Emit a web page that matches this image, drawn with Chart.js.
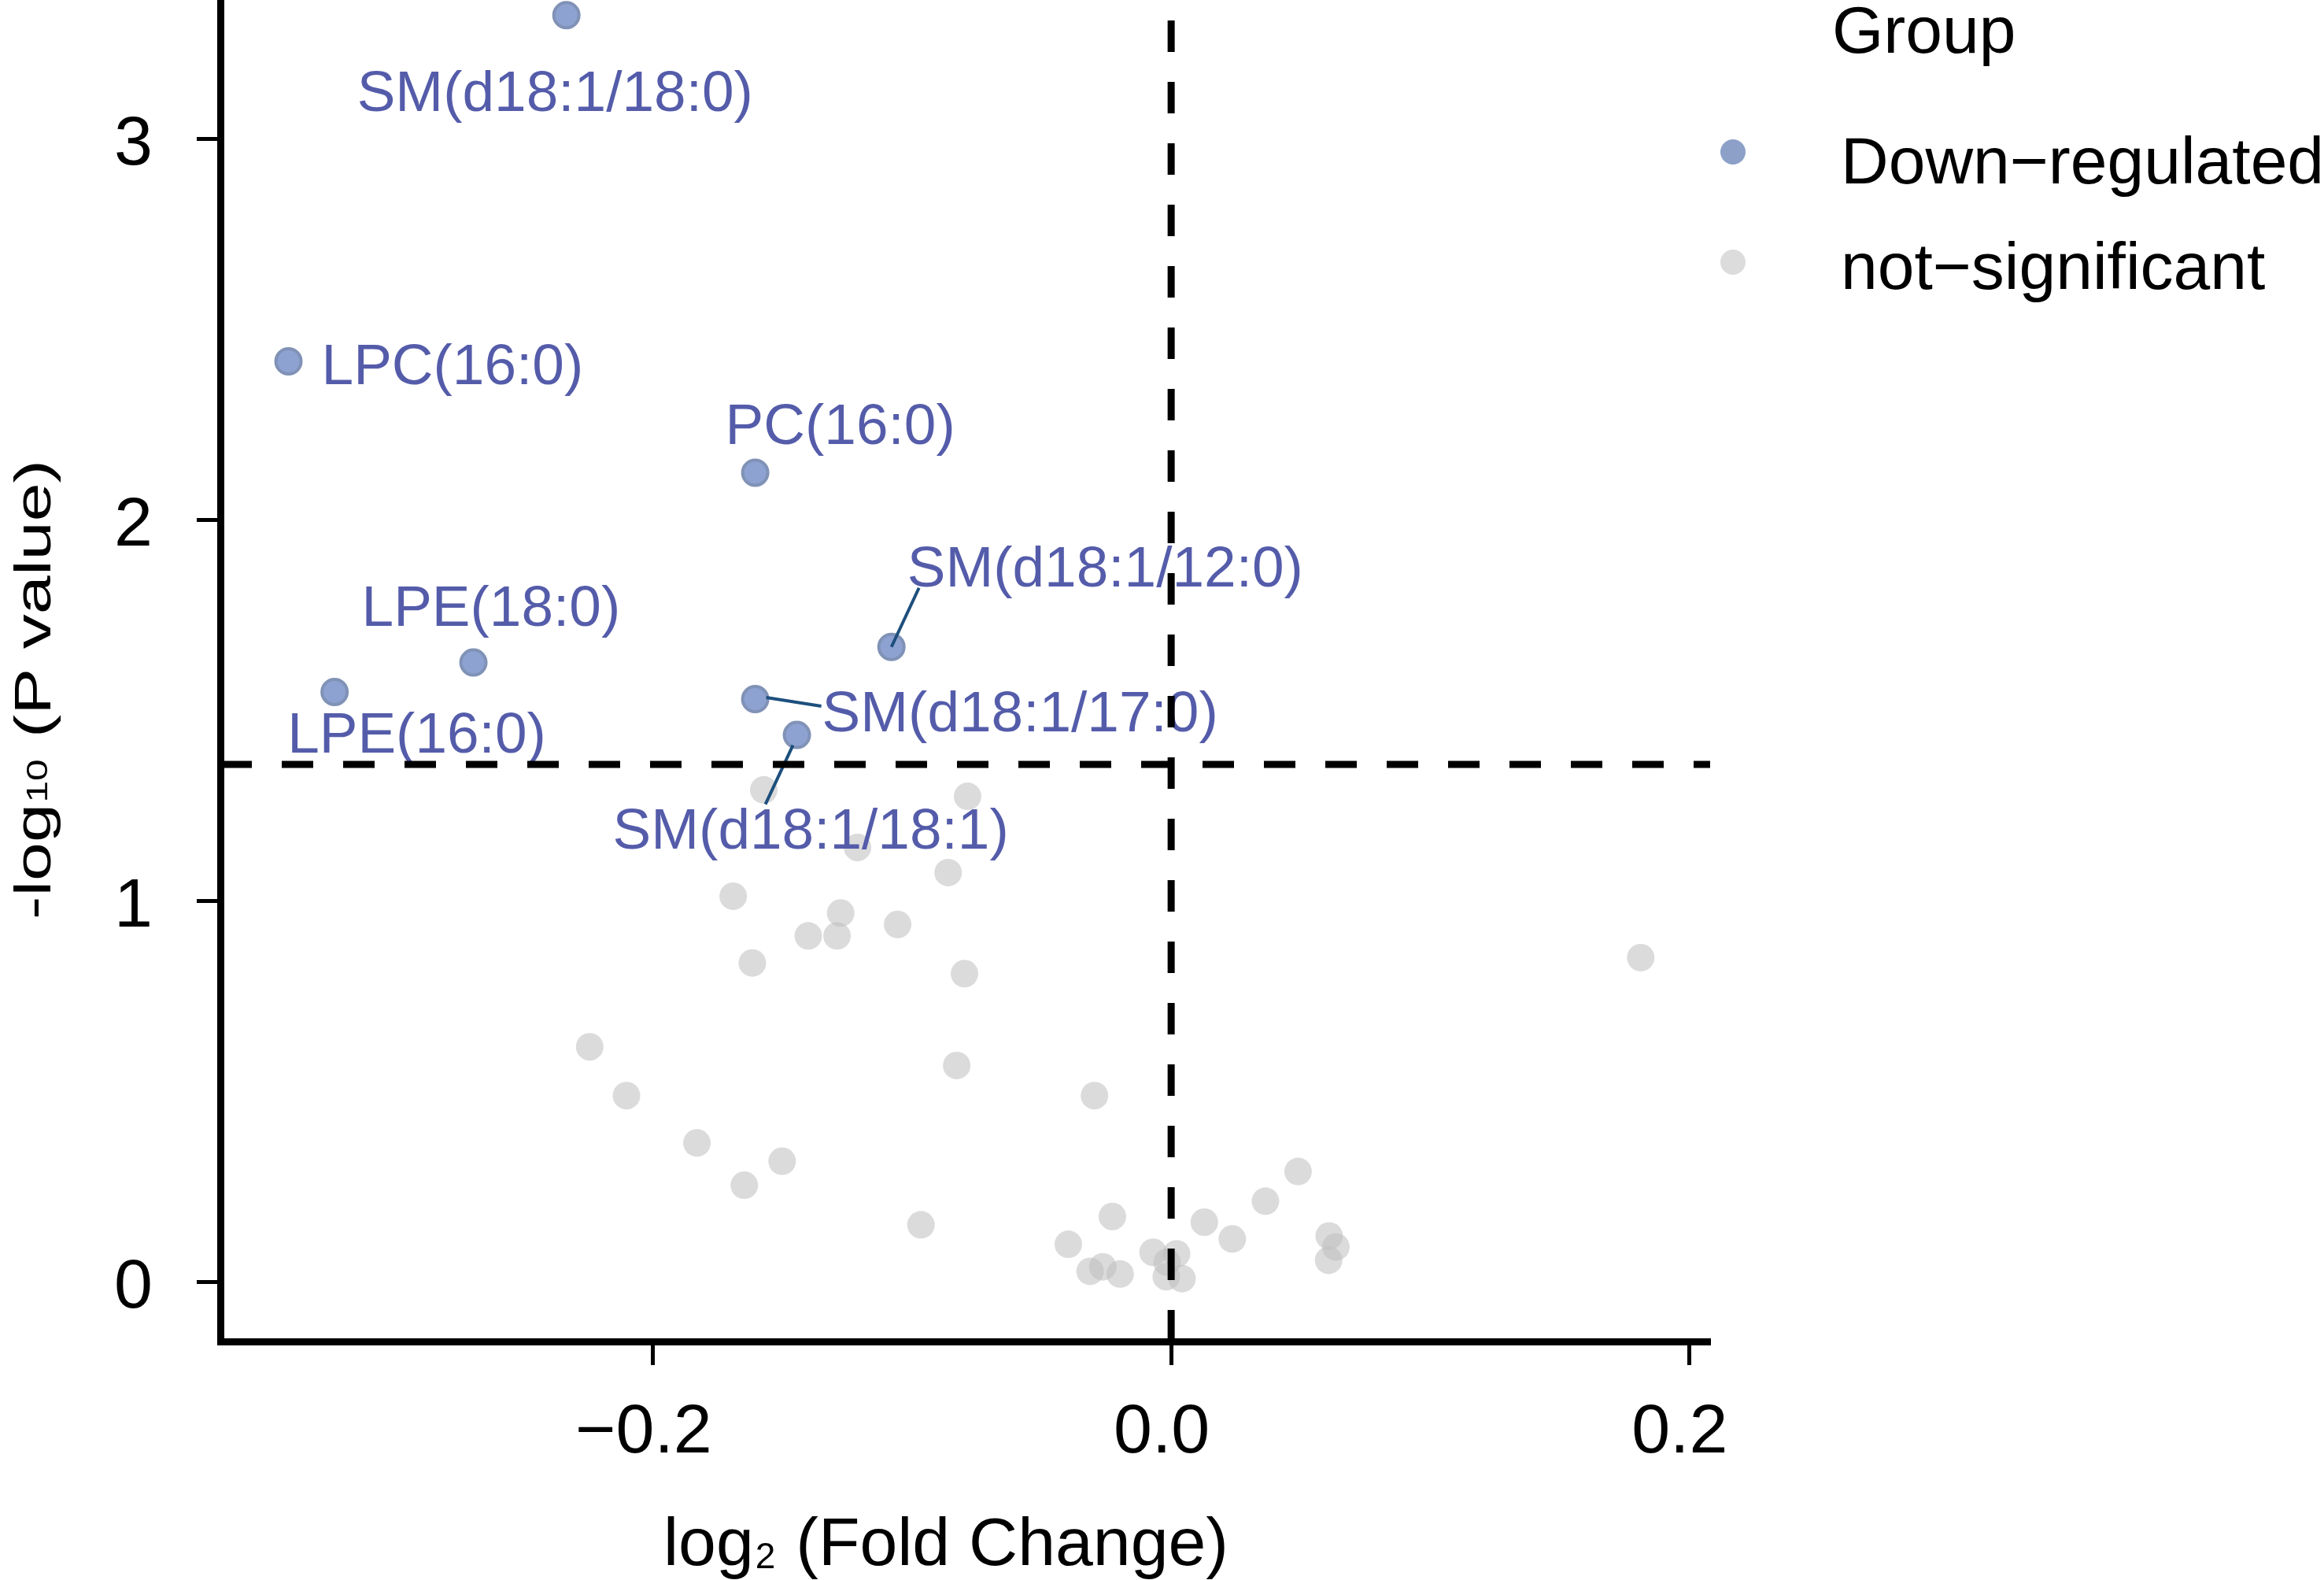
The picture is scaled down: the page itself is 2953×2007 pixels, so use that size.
<!DOCTYPE html>
<html>
<head>
<meta charset="utf-8">
<script src="https://cdn.jsdelivr.net/npm/chart.js@4/dist/chart.umd.min.js"></script>
<style>
  html, body { margin: 0; padding: 0; background: #fff; }
  canvas { display: block; }
</style>
</head>
<body>
<canvas id="volcano" width="2953" height="2007"></canvas>
<script>
// significant (down-regulated) lipids
const downNames = ['SM(d18:1/18:0)', 'LPC(16:0)', 'PC(16:0)', 'SM(d18:1/12:0)',
                   'LPE(18:0)', 'LPE(16:0)', 'SM(d18:1/17:0)', 'SM(d18:1/18:1)'];
const downFC = [-0.2335, -0.3408, -0.1606, -0.1080, -0.2694, -0.3230, -0.1606, -0.1445];
const downP  = [3.324, 2.416, 2.124, 1.667, 1.626, 1.549, 1.530, 1.436];

// not significant
const nsFC = [-0.1573, -0.0786, -0.1211, -0.0861, -0.1691, -0.1276, -0.1401, -0.1290, -0.1056,
              -0.1617, -0.0798, 0.1813, -0.2245, -0.2103, -0.1831, -0.1502, -0.1648, -0.0828,
              -0.0296, -0.0966, -0.0397, -0.0227, -0.0313, -0.0264, -0.0197, -0.0070, 0.0021,
              -0.0016, -0.0019, 0.0042, 0.0128, 0.0236, 0.0364, 0.0490, 0.0610, 0.0636, 0.0608];
const nsP  = [1.292, 1.275, 1.141, 1.075, 1.013, 0.969, 0.909, 0.909, 0.939,
              0.838, 0.810, 0.852, 0.618, 0.490, 0.366, 0.318, 0.255, 0.569,
              0.490, 0.151, 0.100, 0.173, 0.029, 0.041, 0.022, 0.079, 0.075,
              0.053, 0.015, 0.010, 0.158, 0.114, 0.213, 0.291, 0.122, 0.093, 0.058];

const xTicks = [-0.2, 0, 0.2];
const yTicks = [0, 1, 2, 3];
const fcCut = 0;
const pCut = 1.359;
const groupNames = ['Down\u2212regulated', 'not\u2212significant'];

// label placement (pixels from the point) and repel segments
const labelOffsets = [[-266, 122], [42, 29], [-38, -36], [20, -77],
                      [-142, -47], [-60, 77], [85, 41], [-234, 144]];
const segOffsets = [null, null, null, [0, 0, 35, -75],
                    null, null, [14, -2, 84, 9], [-5, 13, -40, 88]];

const FONT = '"Liberation Sans", Arial, sans-serif';
const blueFill = 'rgb(142,162,210)';
const blueEdge = 'rgb(128,146,182)';
const greyFill = 'rgba(190,190,190,0.55)';
const labelColor = '#545caa';

const decor = {
  id: 'decor',
  afterDatasetsDraw(chart) {
    const { ctx, chartArea: a, scales: { x, y } } = chart;
    ctx.save();

    // labels + segments
    ctx.font = '73px ' + FONT;
    ctx.fillStyle = labelColor;
    ctx.textAlign = 'left';
    ctx.textBaseline = 'alphabetic';
    downNames.forEach((name, i) => {
      const px = x.getPixelForValue(downFC[i]);
      const py = y.getPixelForValue(downP[i]);
      const s = segOffsets[i];
      if (s) {
        ctx.strokeStyle = '#1d4f7d';
        ctx.lineWidth = 4;
        ctx.beginPath();
        ctx.moveTo(px + s[0], py + s[1]);
        ctx.lineTo(px + s[2], py + s[3]);
        ctx.stroke();
      }
      ctx.fillText(name, px + labelOffsets[i][0], py + labelOffsets[i][1]);
    });

    // threshold lines
    ctx.strokeStyle = '#000';
    ctx.lineWidth = 9;
    ctx.setLineDash([40, 38]);
    const hy = y.getPixelForValue(pCut);
    ctx.beginPath();
    ctx.moveTo(a.left, hy);
    ctx.lineTo(a.right, hy);
    ctx.stroke();
    const vx = x.getPixelForValue(fcCut);
    ctx.beginPath();
    ctx.moveTo(vx, a.bottom);
    ctx.lineTo(vx, a.top);
    ctx.stroke();
    ctx.setLineDash([]);
    ctx.restore();
  },
  afterDraw(chart) {
    const { ctx } = chart;
    ctx.save();
    ctx.fillStyle = '#000';
    ctx.textBaseline = 'alphabetic';
    ctx.textAlign = 'left';

    // x title: log2 (Fold Change)
    let cx = 843;
    ctx.font = '86px ' + FONT;
    ctx.fillText('log', cx, 1988);
    cx += ctx.measureText('log').width;
    ctx.font = '46px ' + FONT;
    ctx.fillText('2', cx + 2, 1992);
    cx += ctx.measureText('2').width + 4;
    ctx.font = '86px ' + FONT;
    ctx.fillText(' (Fold Change)', cx, 1988);

    // y title: -log10 (P value), narrow glyphs as in the original
    ctx.font = '64px ' + FONT;
    const w1 = ctx.measureText('-log').width;
    const w3 = ctx.measureText(' (P value)').width;
    ctx.font = '36px ' + FONT;
    const w2 = ctx.measureText('10').width + 3;
    const stretch = 584 / (w1 + w2 + w3);
    ctx.translate(64, 1168);
    ctx.rotate(-Math.PI / 2);
    ctx.scale(stretch, 1);
    ctx.font = '64px ' + FONT;
    ctx.fillText('-log', 0, 0);
    ctx.font = '36px ' + FONT;
    ctx.fillText('10', w1 + 1, -4);
    ctx.font = '64px ' + FONT;
    ctx.fillText(' (P value)', w1 + w2, 0);
    ctx.setTransform(1, 0, 0, 1, 0, 0);

    // legend
    ctx.font = '84px ' + FONT;
    ctx.fillText('Group', 2328, 67);
    const dots = [[193, 'rgb(140,160,200)'], [333, 'rgb(220,220,220)']];
    const base = [233, 367];
    groupNames.forEach((g, i) => {
      ctx.fillStyle = dots[i][1];
      ctx.beginPath();
      ctx.arc(2202, dots[i][0], 16, 0, Math.PI * 2);
      ctx.fill();
      ctx.fillStyle = '#000';
      ctx.fillText(g, 2339, base[i]);
    });
    ctx.restore();
  }
};

const downPts = downFC.map((v, i) => ({ x: v, y: downP[i] }));
const nsPts = nsFC.map((v, i) => ({ x: v, y: nsP[i] }));

const tickFont = { family: FONT, size: 88 };

new Chart(document.getElementById('volcano').getContext('2d'), {
  type: 'scatter',
  data: {
    datasets: [
      { label: groupNames[0], data: downPts, pointRadius: 16, pointBorderWidth: 4,
        backgroundColor: blueFill, borderColor: blueEdge },
      { label: groupNames[1], data: nsPts, pointRadius: 17.5, pointBorderWidth: 0,
        backgroundColor: greyFill, borderColor: 'rgba(0,0,0,0)' }
    ]
  },
  options: {
    responsive: false,
    devicePixelRatio: 1,
    animation: false,
    layout: { autoPadding: false, padding: { top: 0, right: 780, bottom: 0, left: 0 } },
    plugins: { legend: { display: false }, tooltip: { enabled: false } },
    scales: {
      x: {
        type: 'linear', min: -0.3671, max: 0.2081,
        afterBuildTicks: s => { s.ticks = xTicks.map(v => ({ value: v })); },
        afterFit: s => { s.height = 303; s.paddingLeft = 0; s.paddingRight = 0; },
        border: { display: true, width: 9, color: '#000' },
        grid: { drawOnChartArea: false, drawTicks: true, tickLength: 30, tickWidth: 5, tickColor: '#000' },
        ticks: {
          font: tickFont, color: '#000', padding: 34, maxRotation: 0, labelOffset: -12,
          callback: v => (v < 0 ? '\u2212' : '') + Math.abs(v).toFixed(1)
        }
      },
      y: {
        type: 'linear', min: -0.1549, max: 3.364,
        afterBuildTicks: s => { s.ticks = yTicks.map(v => ({ value: v })); },
        afterFit: s => { s.width = 280; s.paddingTop = 0; s.paddingBottom = 0; },
        border: { display: true, width: 9, color: '#000' },
        grid: { drawOnChartArea: false, drawTicks: true, tickLength: 30, tickWidth: 5, tickColor: '#000' },
        ticks: {
          font: tickFont, color: '#000', padding: 56, labelOffset: 8,
          callback: v => String(v)
        }
      }
    }
  },
  plugins: [decor]
});
</script>
</body>
</html>
